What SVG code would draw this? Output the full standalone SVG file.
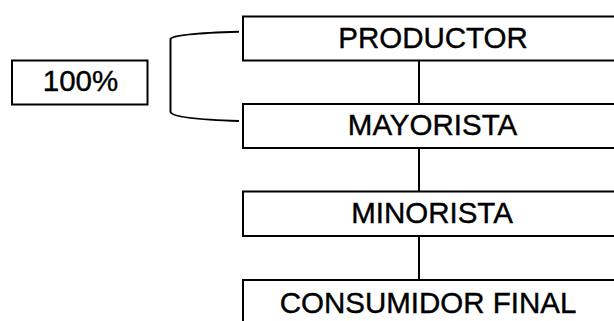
<svg xmlns="http://www.w3.org/2000/svg" width="614" height="321" viewBox="0 0 614 321">
<style>
.box{fill:#fff;stroke:#000;stroke-width:2}
.lbl{font-family:"Liberation Sans",Arial,sans-serif;font-size:29.5px;fill:#000;stroke:#000;stroke-width:0.4;text-anchor:middle}
.con{fill:none;stroke:#000;stroke-width:2}
</style>
<rect width="614" height="321" fill="#fff"/>
<g id="connectors">
<path class="con" d="M239 31.7 Q173 33.5 170.5 39 L170.5 112 Q173 119 239 121"/>
<line class="con" x1="419" y1="60.5" x2="419" y2="104"/>
<line class="con" x1="419" y1="148" x2="419" y2="191.5"/>
<line class="con" x1="419" y1="236" x2="419" y2="280"/>
</g>
<g id="n100">
<rect class="box" x="12" y="60.5" width="135.5" height="44"/>
<text class="lbl" x="80.5" y="91">100%</text>
</g>
<g id="productor">
<rect class="box" x="243" y="16.5" width="380" height="44"/>
<text class="lbl" x="433" y="47.5">PRODUCTOR</text>
</g>
<g id="mayorista">
<rect class="box" x="243" y="104" width="380" height="44"/>
<text class="lbl" x="432.5" y="134.5">MAYORISTA</text>
</g>
<g id="minorista">
<rect class="box" x="243" y="191.5" width="380" height="44.5"/>
<text class="lbl" x="432" y="223">MINORISTA</text>
</g>
<g id="consumidor">
<rect class="box" x="243" y="280" width="380" height="46"/>
<text class="lbl" x="428" y="313">CONSUMIDOR FINAL</text>
</g>
</svg>
